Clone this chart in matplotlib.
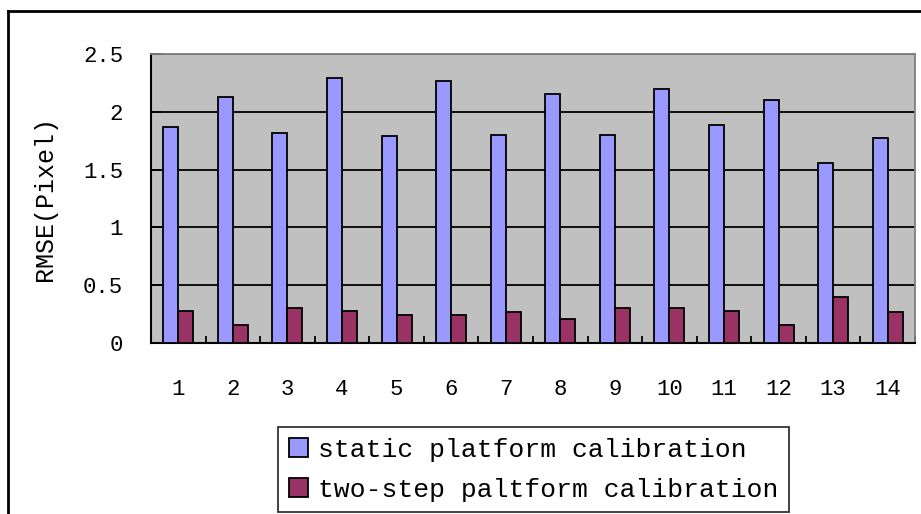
import matplotlib
matplotlib.use("Agg")
import matplotlib.pyplot as plt
import numpy as np
from matplotlib.lines import Line2D

plt.rcParams["font.family"] = ["Liberation Mono", "DejaVu Sans"]

# RMSE per calibration trial
trials = [str(i) for i in range(1, 15)]
static_rmse = [1.87, 2.13, 1.82, 2.29, 1.79, 2.27, 1.80,
               2.15, 1.80, 2.20, 1.89, 2.10, 1.56, 1.77]
two_step_rmse = [0.28, 0.16, 0.30, 0.28, 0.245, 0.24, 0.265,
                 0.21, 0.30, 0.30, 0.28, 0.16, 0.40, 0.265]
series_names = ["static platform calibration", "two-step paltform calibration"]
y_ticks = [0, 0.5, 1, 1.5, 2, 2.5]
y_tick_labels = ["0", "0.5", "1", "1.5", "2", "2.5"]

fig = plt.figure(figsize=(9.21, 5.14), dpi=100)
ax = fig.add_axes([151 / 921, 1 - 343 / 514, (915 - 151) / 921, (343 - 54) / 514])

x = np.arange(len(trials))
w = 0.275
bars1 = ax.bar(x - w / 2, static_rmse, w, color="#9999FF", edgecolor="black",
               linewidth=1.3, label=series_names[0], zorder=3)
bars2 = ax.bar(x + w / 2, two_step_rmse, w, color="#993366", edgecolor="black",
               linewidth=1.3, label=series_names[1], zorder=3)

ax.set_facecolor("#C0C0C0")
ax.set_xlim(-0.5, len(trials) - 0.5)
ax.set_ylim(0, 2.5)
ax.set_yticks(y_ticks)
ax.set_yticklabels(y_tick_labels)
ax.yaxis.grid(True, color="black", linewidth=1.3, zorder=1)
ax.set_axisbelow(True)

ax.set_xticks(x)
ax.set_xticklabels(trials)
ax.set_xticks(np.arange(-0.5, len(trials)), minor=True)
ax.tick_params(axis="x", which="major", length=0, pad=26, labelsize=16)
ax.tick_params(axis="x", which="minor", direction="in", length=5, width=1.3)
ax.tick_params(axis="y", direction="in", length=8, width=1.3, pad=20, labelsize=16)

for side in ("left", "bottom"):
    ax.spines[side].set_color("black")
    ax.spines[side].set_linewidth(1.5)
for side in ("top", "right"):
    ax.spines[side].set_color("#808080")
    ax.spines[side].set_linewidth(1.3)

ax.set_ylabel("RMSE(Pixel)", fontsize=18, labelpad=19)

leg = fig.legend(handles=[bars1, bars2], loc="upper left",
                 bbox_to_anchor=(278 / 921, 1 - 427 / 514),
                 fontsize=19, frameon=True, fancybox=False,
                 handlelength=0.72, handleheight=0.72, handletextpad=0.4,
                 borderpad=0.4, labelspacing=0.62, borderaxespad=0)
leg.get_frame().set_edgecolor("black")
leg.get_frame().set_linewidth(1.3)

# outer chart frame
fig.add_artist(Line2D([8 / 921, 8 / 921], [0, 1 - 11 / 514], color="black",
                      linewidth=2, transform=fig.transFigure))
fig.add_artist(Line2D([8 / 921, 1], [1 - 11 / 514, 1 - 11 / 514], color="black",
                      linewidth=2, transform=fig.transFigure))

fig.savefig("out.png", dpi=100)
